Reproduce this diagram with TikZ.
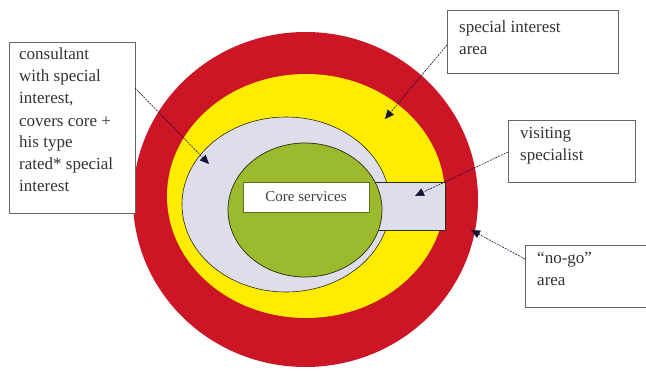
\documentclass[tikz,border=0pt]{standalone}
\usepackage{fontspec}
\setmainfont{Liberation Serif}
\usetikzlibrary{shapes.geometric,arrows.meta,calc}
\definecolor{ringred}{HTML}{CC1525}
\definecolor{ringyellow}{HTML}{FFEC00}
\definecolor{ringgrey}{HTML}{DDDEE9}
\definecolor{coregreen}{HTML}{9CBA2E}
\definecolor{edgedark}{HTML}{2A2A10}
\definecolor{arrowdark}{HTML}{14143A}
\tikzset{
  zone/.style={ellipse, inner sep=0pt, outer sep=0pt},
  labelbox/.style={draw=black!60, line width=0.8pt, fill=white, rectangle, inner sep=0pt, outer sep=0pt},
  labeltext/.style={anchor=north west, align=left, inner sep=0pt, font=\fontsize{17}{22}\selectfont, text=black!80},
  pointer/.style={draw=arrowdark, line width=0.6pt, dash pattern=on 2pt off 1pt, -{Triangle[length=9pt,width=8pt]}},
}
\begin{document}
\begin{tikzpicture}[x=1pt,y=-1pt]
\useasboundingbox (0,0) rectangle (646,370);
% rings
\node[zone, fill=ringred, minimum width=345pt, minimum height=335pt] (red) at (305.5,199.5) {};
\node[zone, fill=ringyellow, minimum width=278pt, minimum height=244pt] (yellow) at (306,196) {};
\node[zone, fill=ringgrey, draw=edgedark, line width=0.6pt, minimum width=208pt, minimum height=175pt] (grey) at (286,204.5) {};
\node[rectangle, fill=ringgrey, draw=edgedark, line width=0.7pt, inner sep=0pt, minimum width=70pt, minimum height=48pt] (visit) at (410,206) {};
\node[zone, fill=coregreen, draw=edgedark, line width=0.7pt, minimum width=154pt, minimum height=134pt] (green) at (305,210) {};
\node[rectangle, fill=white, draw=coregreen!60!black, line width=0.8pt, inner sep=0pt, minimum width=126pt, minimum height=30pt, font=\fontsize{15}{17}\selectfont, text=black!75] (core) at (306,197) {Core services};
% label boxes
\draw[labelbox] (9,42) rectangle (135,213);
\node[labeltext] (lefttxt) at (19,48) {consultant\\with special\\interest,\\covers core +\\his type\\rated* special\\interest};
\draw[labelbox] (447,10) rectangle (618,73);
\node[labeltext] (sitxt) at (459,21) {special interest\\area};
\draw[labelbox] (508,120) rectangle (635,182);
\node[labeltext] (vstxt) at (520,127) {visiting\\specialist};
\draw[labelbox] (525,245) rectangle (650,307);
\node[labeltext] (ngtxt) at (537,252) {“no-go”\\area};
% connector ends
\coordinate (s1) at (135,88);
\coordinate (t1) at (209,164);
\coordinate (s2) at (447,45);
\coordinate (t2) at (385,119);
\coordinate (s3) at (508,152);
\coordinate (t3) at (415,196);
\coordinate (s4) at (525,259);
\coordinate (t4) at (471,230);
\draw[pointer] (s1) -- (t1);
\draw[pointer] (s2) -- (t2);
\draw[pointer] (s3) -- (t3);
\draw[pointer] (s4) -- (t4);
\end{tikzpicture}
\end{document}
